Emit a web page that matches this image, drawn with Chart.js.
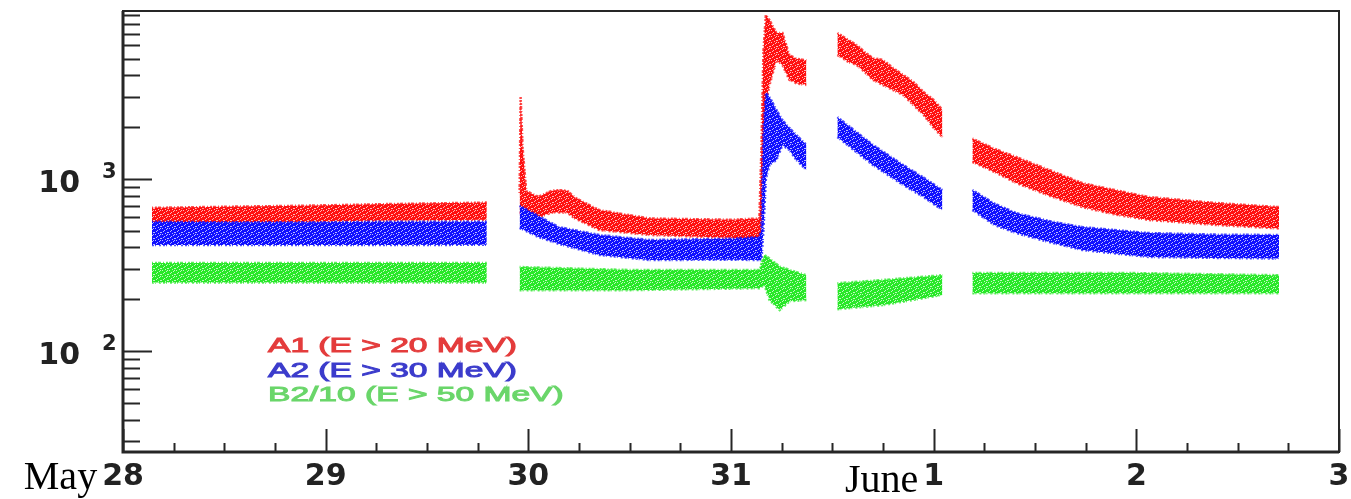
<!DOCTYPE html>
<html>
<head>
<meta charset="utf-8">
<script src="https://cdn.jsdelivr.net/npm/chart.js@4.4.1/dist/chart.umd.min.js"></script>
<style>
  html, body { margin: 0; padding: 0; background: #fff; }
  #wrap { width: 1351px; height: 499px; position: relative; }
</style>
</head>
<body>
<div id="wrap"><canvas id="c" width="1351" height="499"></canvas></div>
<script>
// ---- tick labels ----
const dayLabels   = ['28', '29', '30', '31', '1', '2', '3'];   // days since May 28 00:00
const monthLabels = ['May', '', '', '', 'June', '', ''];
const decadeTicks = [100, 1000];

// ---- series (time in days after May 28 00:00 UT; band upper/lower edges of the count-rate scatter) ----
const seriesNames  = ['A1 (E > 20 MeV)', 'A2 (E > 30 MeV)', 'B2/10 (E > 50 MeV)'];

const redT  = [0.143, 0.50, 0.90, 1.30, 1.795, 1.88,
               1.957, 1.962, 1.972, 1.99, 2.05, 2.12, 2.19, 2.23, 2.35, 2.60, 3.00, 3.14, 3.150, 3.160, 3.172, 3.19, 3.224, 3.254, 3.288, 3.323, 3.372, 3.45,
               3.525, 3.58, 3.62, 3.66, 3.70, 3.75, 3.80, 3.85, 3.90, 3.95, 4.00, 4.043, 4.12,
               4.191, 4.30, 4.408, 4.57, 4.733, 4.90, 5.063, 5.40, 5.704];
const redHi = [680, 690, 700, 715, 730, null,
               830, 3000, 1500, 850, 790, 860, 860, 780, 660, 590, 580, 590, 1480, 5500, 9000, 8400, 7060, 7060, 5260, 5000, 4900, null,
               7060, 6430, 6010, 5470, 5050, 4920, 4420, 4030, 3670, 3210, 2880, 2520, null,
               1720, 1500, 1343, 1130, 948, 860, 786, 725, 687];
const redLo = [555, 560, 565, 575, 580, null,
               634, 634, 634, 630, 600, 640, 640, 590, 505, 473, 455, 442, 485, 1500, 2800, 3520, 4920, 4600, 3770, 3600, 3520, null,
               5260, 4790, 4600, 4190, 3770, 3520, 3290, 3080, 2690, 2360, 1980, 1755, null,
               1257, 1100, 948, 800, 687, 620, 578, 540, 516];

const blueT  = [0.143, 0.50, 0.90, 1.30, 1.795, 1.88,
                1.957, 2.05, 2.15, 2.35, 2.60, 3.00, 3.14, 3.150, 3.160, 3.172, 3.19, 3.224, 3.254, 3.288, 3.323, 3.372, 3.45,
                3.525, 3.70, 3.85, 3.95, 4.043, 4.12,
                4.191, 4.30, 4.408, 4.57, 4.733, 5.063, 5.40, 5.704];
const blueHi = [565, 560, 560, 565, 565, null,
                700, 610, 526, 473, 442, 450, 460, 505, 1900, 3160, 3000, 2520, 2200, 1980, 1800, 1580, null,
                2290, 1580, 1206, 1020, 863, null,
                863, 720, 634, 570, 526, 485, 475, 473];
const blueLo = [413, 413, 413, 413, 415, null,
                520, 460, 420, 362, 338, 340, 338, 338, 505, 1000, 1206, 1290, 1577, 1475, 1290, 1128, null,
                1755, 1206, 923, 786, 660, null,
                660, 540, 485, 430, 387, 352, 348, 345];

const greenT  = [0.143, 0.90, 1.795, 1.88,
                 1.957, 2.50, 3.14, 3.165, 3.19, 3.24, 3.29, 3.372, 3.45,
                 3.525, 3.75, 4.043, 4.12,
                 4.191, 5.0, 5.704];
const greenHi = [325, 325, 325, null,
                 308, 296, 296, 362, 345, 310, 296, 276, null,
                 248, 259, 276, null,
                 284, 284, 276];
const greenLo = [250, 250, 250, null,
                 226, 226, 232, 242, 198, 173, 195, 198, null,
                 175, 185, 212, null,
                 217, 217, 217];

// ---- styles ----
const bandRGB      = ['255,16,16', '16,16,255', '40,232,40'];
const legendColors = ['#e43c3c', '#3c3ccc', '#6ad66a'];

// small fixed speckle tile so the bands read like dense scatter
function speckle(rgb) {
  const c = document.createElement('canvas');
  c.width = 7; c.height = 6;
  const g = c.getContext('2d');
  g.fillStyle = 'rgb(' + rgb + ')';
  g.fillRect(0, 0, 7, 6);
  g.fillStyle = 'rgba(255,255,255,0.7)';
  [[1, 0], [5, 1], [3, 2], [0, 4], [6, 4], [4, 5], [2, 3], [6, 0]].forEach(p => g.fillRect(p[0], p[1], 1, 1));
  return g.createPattern(c, 'repeat');
}

function pts(t, v) { return t.map((x, i) => ({ x: x, y: v[i] })); }
function band(name, t, hi, lo, rgb) {
  const edge = 'rgba(' + rgb + ',0.75)';
  return [
    { label: name, data: pts(t, hi), fill: '+1', backgroundColor: speckle(rgb), borderColor: edge, borderWidth: 2.5, borderDash: [1, 2, 2, 1, 3, 2], pointRadius: 0, spanGaps: false },
    { label: name + ' (lower)', data: pts(t, lo), fill: false, borderColor: edge, borderWidth: 2.5, borderDash: [2, 1, 1, 3, 2, 2], pointRadius: 0, spanGaps: false }
  ];
}

const datasets = [].concat(
  band(seriesNames[2], greenT, greenHi, greenLo, bandRGB[2]),
  band(seriesNames[1], blueT, blueHi, blueLo, bandRGB[1]),
  band(seriesNames[0], redT, redHi, redLo, bandRGB[0])
);

const decor = {
  id: 'decor',
  afterDraw(chart) {
    const { ctx, chartArea: a, scales: { x, y } } = chart;
    ctx.save();
    ctx.strokeStyle = '#262626';
    // frame
    ctx.lineWidth = 2;
    ctx.strokeRect(a.left, a.top, a.right - a.left, a.bottom - a.top);
    ctx.lineWidth = 3;
    ctx.beginPath();
    ctx.moveTo(a.left, a.top); ctx.lineTo(a.left, a.bottom); ctx.lineTo(a.right, a.bottom);
    ctx.stroke();
    // y ticks (inside)
    ctx.lineWidth = 2;
    ctx.beginPath();
    for (let e = 1; e <= 3; e++) {
      for (let m = 1; m <= 9; m++) {
        const v = m * Math.pow(10, e);
        if (v < y.min || v > y.max) continue;
        const py = Math.round(y.getPixelForValue(v)) + 0.5;
        const len = m === 1 ? 29 : 17;
        ctx.moveTo(a.left, py); ctx.lineTo(a.left + len, py);
      }
    }
    // x ticks (inside), every 6 hours
    for (let q = 0; q <= 24; q++) {
      const v = q / 4;
      const px = Math.round(x.getPixelForValue(v)) + 0.5;
      const len = q % 4 === 0 ? 23 : 9;
      ctx.moveTo(px, a.bottom); ctx.lineTo(px, a.bottom - len);
    }
    ctx.stroke();
    // exponents for y labels
    ctx.fillStyle = '#222';
    ctx.font = 'bold 21px "DejaVu Sans"';
    ctx.textAlign = 'left';
    ctx.textBaseline = 'top';
    decadeTicks.forEach(v => {
      const py = y.getPixelForValue(v);
      ctx.fillText(String(Math.round(Math.log10(v))), 102, py - 17);
    });
    // month prefixes
    const tickFont = 'bold 30px "DejaVu Sans"';
    monthLabels.forEach((m, i) => {
      if (!m) return;
      ctx.font = tickFont;
      const w = ctx.measureText(dayLabels[i]).width;
      const px = x.getPixelForValue(i);
      ctx.font = '40px "Liberation Serif"';
      ctx.textAlign = 'right';
      ctx.textBaseline = 'alphabetic';
      ctx.fillStyle = '#000';
      ctx.fillText(m, px - w / 2 - 5, i === 0 ? 489 : 492);
    });
    // legend (text only, inside plot)
    ctx.font = '21px "Liberation Sans"';
    ctx.textAlign = 'left';
    ctx.textBaseline = 'alphabetic';
    const sx = 249 / ctx.measureText(seriesNames[0]).width;
    seriesNames.forEach((n, i) => {
      ctx.save();
      ctx.translate(268, 352 + i * 24.5);
      ctx.scale(sx, 1);
      ctx.fillStyle = legendColors[i];
      ctx.strokeStyle = legendColors[i];
      ctx.lineWidth = 1;
      ctx.fillText(n, 0, 0);
      ctx.strokeText(n, 0, 0);
      ctx.restore();
    });
    ctx.restore();
  }
};

new Chart(document.getElementById('c'), {
  type: 'line',
  data: { datasets: datasets },
  options: {
    responsive: false,
    animation: false,
    events: [],
    layout: { padding: { top: 11, right: 12, left: 0, bottom: 0 } },
    plugins: { legend: { display: false }, tooltip: { enabled: false } },
    elements: { line: { tension: 0 }, point: { radius: 0 } },
    scales: {
      x: {
        type: 'linear', min: 0, max: 6,
        grid: { display: false, drawTicks: false },
        border: { display: false },
        afterBuildTicks: s => { s.ticks = dayLabels.map((_, i) => ({ value: i })); },
        afterFit: s => { s.height = 47; s.paddingLeft = 0; s.paddingRight = 0; s.paddingTop = 0; s.paddingBottom = 0; },
        ticks: {
          autoSkip: false, maxRotation: 0, padding: 7,
          callback: v => dayLabels[v],
          color: '#222',
          font: { family: 'DejaVu Sans', weight: 'bold', size: 30 }
        }
      },
      y: {
        type: 'logarithmic', min: 25.9, max: 9480,
        grid: { display: false, drawTicks: false },
        border: { display: false },
        afterBuildTicks: s => { s.ticks = decadeTicks.map(v => ({ value: v })); },
        afterFit: s => { s.width = 123; s.paddingTop = 0; s.paddingBottom = 0; s.paddingLeft = 0; s.paddingRight = 0; },
        ticks: {
          autoSkip: false, padding: 43, labelOffset: 5,
          callback: () => '10',
          color: '#222',
          font: { family: 'DejaVu Sans', weight: 'bold', size: 30 }
        }
      }
    }
  },
  plugins: [decor]
});
</script>
</body>
</html>
